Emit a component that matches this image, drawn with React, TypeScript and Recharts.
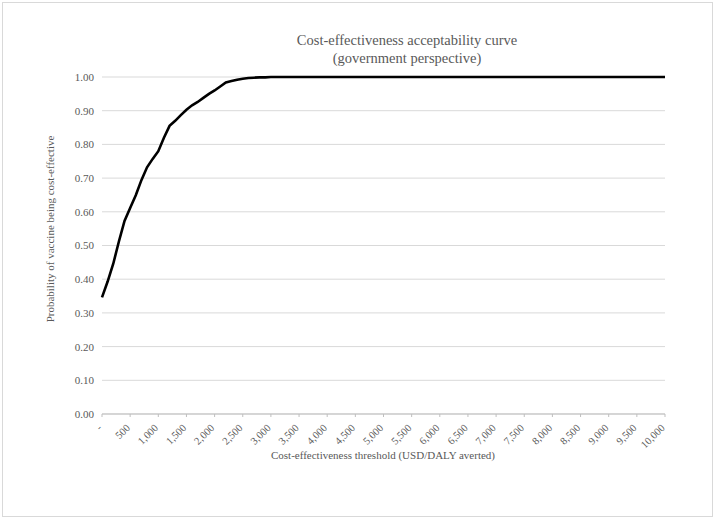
import { LineChart, Line, XAxis, YAxis, CartesianGrid } from "recharts";

// threshold (USD/DALY averted)
const thresholds = [
  0, 100, 200, 300, 400, 500, 600, 700, 800, 900,
  1000, 1100, 1200, 1300, 1400, 1500, 1600, 1700, 1800, 1900,
  2000, 2100, 2200, 2300, 2400, 2500, 2600, 2700, 2800, 2900,
  3000, 3500, 4000, 4500, 5000, 5500, 6000, 6500, 7000, 7500,
  8000, 8500, 9000, 9500, 10000,
];

// probability vaccine is cost-effective
const probability = [
  0.346, 0.393, 0.446, 0.512, 0.573, 0.611, 0.649, 0.694, 0.732, 0.757,
  0.780, 0.820, 0.855, 0.870, 0.887, 0.903, 0.916, 0.926, 0.938, 0.950,
  0.960, 0.972, 0.984, 0.988, 0.992, 0.995, 0.997, 0.998, 0.999, 0.999,
  1.0, 1.0, 1.0, 1.0, 1.0, 1.0, 1.0, 1.0, 1.0, 1.0,
  1.0, 1.0, 1.0, 1.0, 1.0,
];

const xTicks = [
  0, 500, 1000, 1500, 2000, 2500, 3000, 3500, 4000, 4500, 5000,
  5500, 6000, 6500, 7000, 7500, 8000, 8500, 9000, 9500, 10000,
];
const yTicks = [0, 0.1, 0.2, 0.3, 0.4, 0.5, 0.6, 0.7, 0.8, 0.9, 1.0];

// small tick marks every 100 along the category axis
const minorTicks = Array.from({ length: 101 }, (_, i) => i * 100);

const data = thresholds.map((t, i) => ({ t, p: probability[i] }));

const serif = "'Liberation Serif', 'Times New Roman', serif";
const textGray = "#595959";

function XTick(props: any) {
  const { x, y, payload } = props;
  const label = payload.value === 0 ? "-" : payload.value.toLocaleString("en-US");
  const ax = x - 2;
  const ay = y + 7;
  return (
    <text
      x={ax}
      y={ay}
      transform={`rotate(-45, ${ax}, ${ay})`}
      textAnchor="end"
      dominantBaseline="central"
      fontSize={10.5}
      fontFamily={serif}
      fill={textGray}
    >
      {label}
    </text>
  );
}

export default function App() {
  return (
    <div style={{ position: "absolute", left: 0, top: 0, width: 716, height: 521, background: "#fff", fontFamily: serif }}>
      <div style={{ position: "absolute", left: 2, top: 2, width: 711, height: 515, border: "1px solid #d9d9d9", boxSizing: "border-box" }} />
      <div style={{ position: "absolute", left: 207, width: 400, top: 31, textAlign: "center", fontSize: 14.5, lineHeight: "18px", color: textGray }}>
        Cost-effectiveness acceptability curve
        <br />
        (government perspective)
      </div>
      <div style={{ position: "absolute", left: 183, width: 400, top: 449, textAlign: "center", fontSize: 11, color: textGray }}>
        Cost-effectiveness threshold (USD/DALY averted)
      </div>
      <div style={{ position: "absolute", left: 50, top: 229, width: 0, height: 0 }}>
        <div style={{ position: "absolute", transform: "translate(-50%, -50%) rotate(-90deg)", whiteSpace: "nowrap", fontSize: 11, color: textGray }}>
          Probability of vaccine being cost-effective
        </div>
      </div>
      <div style={{ position: "absolute", left: 0, top: 0 }}>
        <LineChart width={716} height={521} data={data} margin={{ top: 77, right: 51, left: 0, bottom: 0 }}>
          <CartesianGrid stroke="#d9d9d9" vertical={false} />
          <XAxis
            xAxisId="minor"
            dataKey="t"
            type="number"
            domain={[0, 10000]}
            ticks={minorTicks}
            interval={0}
            height={0}
            axisLine={false}
            stroke="#d9d9d9"
            tickSize={2}
            tick={() => <g />}
          />
          <XAxis
            dataKey="t"
            type="number"
            domain={[0, 10000]}
            ticks={xTicks}
            interval={0}
            height={107}
            stroke="#bfbfbf"
            tickSize={3}
            tick={<XTick />}
          />
          <YAxis
            domain={[0, 1]}
            ticks={yTicks}
            width={102}
            axisLine={false}
            tickLine={false}
            tickSize={0}
            tickMargin={8}
            tickFormatter={(v: number) => v.toFixed(2)}
            tick={{ fontSize: 11, fontFamily: serif, fill: textGray }}
          />
          <Line
            type="linear"
            dataKey="p"
            stroke="#000"
            strokeWidth={2.6}
            dot={false}
            isAnimationActive={false}
          />
        </LineChart>
      </div>
    </div>
  );
}
